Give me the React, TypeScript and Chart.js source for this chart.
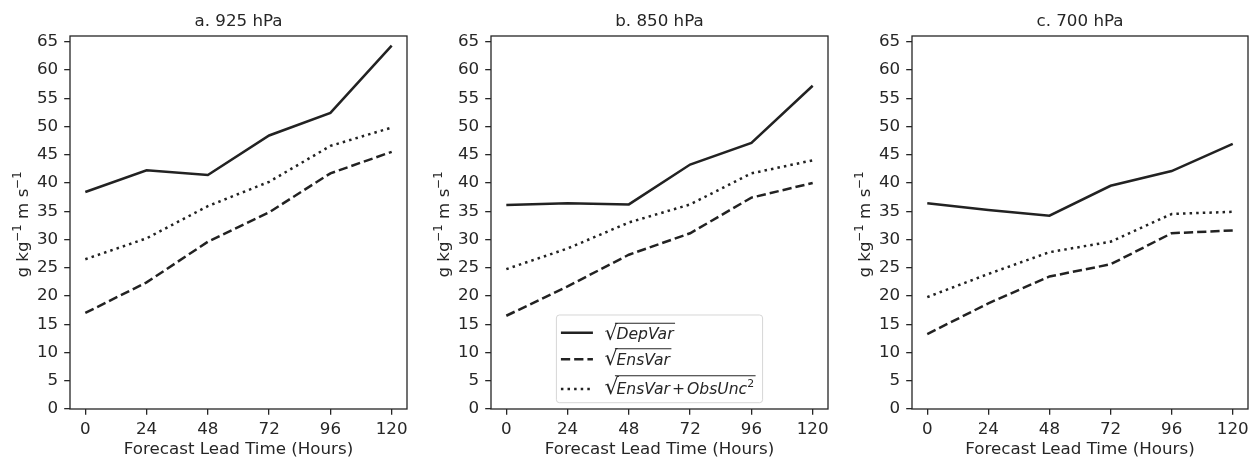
import React, { useEffect, useRef } from 'react';
import { Chart, registerables } from 'chart.js';

Chart.register(...registerables);

// ---------- data ----------
const hours = [0, 24, 48, 72, 96, 120];
const xTickLabels = ['0', '24', '48', '72', '96', '120'];
const yTickValues = [0, 5, 10, 15, 20, 25, 30, 35, 40, 45, 50, 55, 60, 65];
const yTickLabels = ['0', '5', '10', '15', '20', '25', '30', '35', '40', '45', '50', '55', '60', '65'];
const panelTitles = ['a. 925 hPa', 'b. 850 hPa', 'c. 700 hPa'];

const dep925 = [38.4, 42.25, 41.4, 48.4, 52.4, 64.3];
const ens925 = [17.0, 22.4, 29.6, 34.8, 41.7, 45.5];
const tot925 = [26.5, 30.2, 35.9, 40.2, 46.55, 49.8];

const dep850 = [36.1, 36.4, 36.2, 43.25, 47.1, 57.2];
const ens850 = [16.5, 21.7, 27.3, 31.1, 37.4, 40.0];
const tot850 = [24.75, 28.4, 33.0, 36.2, 41.7, 44.0];

const dep700 = [36.4, 35.2, 34.2, 39.5, 42.1, 46.9];
const ens700 = [13.25, 18.7, 23.45, 25.6, 31.1, 31.6];
const tot700 = [19.8, 23.9, 27.75, 29.6, 34.5, 34.9];

const legendLabels = ['DepVar', 'EnsVar', 'EnsVar+ObsUnc^2'];
const xTitle = 'Forecast Lead Time (Hours)';
const yTitle = 'g kg^{\u22121} m s^{\u22121}';

const panelSeries = [
  [dep925, ens925, tot925],
  [dep850, ens850, tot850],
  [dep700, ens700, tot700],
];

// ---------- styles ----------
const FONT = '"DejaVu Sans", Verdana, sans-serif';
const FS = 16.7;
const TEXT = '#262626';
const LINE = '#222222';
const LW = 2.5;
const dashes = [[], [9.25, 4.0], [2.5, 4.1]];

// canvas placement: [left, width, rightPadding]
const panelBoxes = [
  [0, 421, 14],
  [421, 421, 14],
  [842, 407, 1],
];
const H = 457;

const framePlugin = {
  id: 'frame',
  afterDatasetsDraw(chart: any) {
    const { ctx, chartArea: a } = chart;
    ctx.save();
    ctx.strokeStyle = TEXT;
    ctx.lineWidth = 1.3;
    ctx.strokeRect(a.left, a.top, a.right - a.left, a.bottom - a.top);
    ctx.restore();
  },
};

function parseSup(s: string) {
  const segs: { t: string; sup: boolean }[] = [];
  const re = /\^\{([^}]*)\}/g;
  let last = 0;
  let m: RegExpExecArray | null;
  while ((m = re.exec(s))) {
    if (m.index > last) segs.push({ t: s.slice(last, m.index), sup: false });
    segs.push({ t: m[1], sup: true });
    last = m.index + m[0].length;
  }
  if (last < s.length) segs.push({ t: s.slice(last), sup: false });
  return segs;
}

const yTitlePlugin = {
  id: 'yTitleMath',
  afterDraw(chart: any) {
    const { ctx, chartArea: a } = chart;
    const segs = parseSup(yTitle);
    ctx.save();
    const ws = segs.map((s) => {
      ctx.font = `${s.sup ? FS * 0.7 : FS}px ${FONT}`;
      return ctx.measureText(s.t).width;
    });
    const W = ws.reduce((p, c) => p + c, 0);
    ctx.translate(a.left - 41.8, (a.top + a.bottom) / 2 + 2);
    ctx.rotate(-Math.PI / 2);
    ctx.fillStyle = TEXT;
    ctx.textBaseline = 'alphabetic';
    ctx.textAlign = 'left';
    let x = -W / 2;
    segs.forEach((s, i) => {
      ctx.font = `${s.sup ? FS * 0.7 : FS}px ${FONT}`;
      ctx.fillText(s.t, x, s.sup ? -FS * 0.45 : 0);
      x += ws[i];
    });
    ctx.restore();
  },
};

function parseLabel(label: string) {
  const segs: { t: string; kind: 'it' | 'up' | 'sup' }[] = [];
  const parts = label.split('+');
  parts.forEach((p, i) => {
    if (i > 0) segs.push({ t: '+', kind: 'up' });
    const m = p.split('^');
    segs.push({ t: m[0], kind: 'it' });
    if (m[1]) segs.push({ t: m[1], kind: 'sup' });
  });
  return segs;
}

const mathLegendPlugin = {
  id: 'mathLegend',
  afterDraw(chart: any) {
    const { ctx, chartArea: a } = chart;
    const ds = chart.data.datasets;
    const fs = 15.6;
    const opGap = 2;
    const fonts: Record<string, string> = {
      it: `italic ${fs}px ${FONT}`,
      up: `${fs}px ${FONT}`,
      sup: `${fs * 0.7}px ${FONT}`,
    };
    ctx.save();
    const rows = legendLabels.map((l) => {
      const segs = parseLabel(l);
      let w = 0;
      const ws = segs.map((s) => {
        ctx.font = fonts[s.kind];
        const m = ctx.measureText(s.t).width + (s.kind === 'up' ? 2 * opGap : 0);
        w += m;
        return m;
      });
      return { segs, ws, w };
    });
    const maxW = Math.max(...rows.map((r) => r.w));
    const padL = 4.5, handle = 32, gap = 11.5, radW = 12, padR = 8.5;
    const boxW = padL + handle + gap + radW + maxW + padR;
    const boxH = 87.7;
    const cx = (a.left + a.right) / 2;
    const bx = cx - boxW / 2;
    const by = a.bottom - 6.3 - boxH;
    const handleOff = [17.7, 44.3, 74];
    const baseOff = [24.3, 50, 78.5];
    const barOff = [7.7, 33.3, 60.3];

    // frame
    ctx.beginPath();
    const r = 3;
    ctx.moveTo(bx + r, by);
    ctx.arcTo(bx + boxW, by, bx + boxW, by + boxH, r);
    ctx.arcTo(bx + boxW, by + boxH, bx, by + boxH, r);
    ctx.arcTo(bx, by + boxH, bx, by, r);
    ctx.arcTo(bx, by, bx + boxW, by, r);
    ctx.closePath();
    ctx.fillStyle = 'rgba(255,255,255,0.8)';
    ctx.fill();
    ctx.strokeStyle = 'rgba(204,204,204,0.8)';
    ctx.lineWidth = 1;
    ctx.stroke();

    rows.forEach((row, i) => {
      const d = ds[i];
      const hy = by + handleOff[i];
      // handle
      ctx.save();
      ctx.strokeStyle = d.borderColor;
      ctx.lineWidth = d.borderWidth;
      ctx.setLineDash(d.borderDash || []);
      ctx.lineCap = 'butt';
      ctx.beginPath();
      ctx.moveTo(bx + padL, hy);
      ctx.lineTo(bx + padL + handle, hy);
      ctx.stroke();
      ctx.restore();

      const base = by + baseOff[i];
      const barY = by + barOff[i];
      const rx = bx + padL + handle + gap;
      ctx.fillStyle = TEXT;
      ctx.textAlign = 'left';
      ctx.textBaseline = 'alphabetic';
      // radical glyph scaled so its top meets the bar and its foot sits ~2px under baseline
      const wantH = base + 2 - barY;
      ctx.font = `${fs}px ${FONT}`;
      const mr = ctx.measureText('\u221A');
      const gh = (mr.actualBoundingBoxAscent || fs * 0.76) + (mr.actualBoundingBoxDescent || fs * 0.05);
      const rfs = (fs * wantH) / gh;
      ctx.font = `${rfs}px ${FONT}`;
      const mr2 = ctx.measureText('\u221A');
      const asc2 = mr2.actualBoundingBoxAscent || rfs * 0.76;
      const rw = mr2.width;
      ctx.fillText('\u221A', rx, barY + asc2);
      // text
      let x = rx + radW;
      row.segs.forEach((s, k) => {
        ctx.font = fonts[s.kind];
        const dx = s.kind === 'up' ? opGap : 0;
        ctx.fillText(s.t, x + dx, s.kind === 'sup' ? base - 7 : base);
        x += row.ws[k];
      });
      // overline
      ctx.strokeStyle = TEXT;
      ctx.lineWidth = 1.1;
      ctx.beginPath();
      ctx.moveTo(rx + Math.min(rw, radW) - 1.5, barY + 0.5);
      ctx.lineTo(x + 1.5, barY + 0.5);
      ctx.stroke();
    });
    ctx.restore();
  },
};

function makeConfig(idx: number): any {
  const series = panelSeries[idx];
  const font = { family: FONT, size: FS };
  return {
    type: 'line',
    data: {
      datasets: series.map((vals, i) => ({
        label: legendLabels[i],
        data: hours.map((h, k) => ({ x: h, y: vals[k] })),
        borderColor: LINE,
        backgroundColor: LINE,
        borderWidth: LW,
        borderDash: dashes[i],
        borderCapStyle: 'butt',
        pointRadius: 0,
        tension: 0,
        fill: false,
      })),
    },
    options: {
      animation: false,
      responsive: false,
      devicePixelRatio: 1,
      events: [],
      layout: { padding: { top: 0, left: 0, bottom: 0, right: panelBoxes[idx][2] } },
      plugins: {
        legend: { display: false },
        tooltip: { enabled: false },
        title: {
          display: true,
          text: panelTitles[idx],
          fullSize: false,
          color: TEXT,
          font: { ...font, weight: 'normal', lineHeight: 1.2 },
          padding: { top: 11.5, bottom: 4.46 },
        },
      },
      scales: {
        x: {
          type: 'linear',
          min: -6,
          max: 126,
          afterBuildTicks: (s: any) => {
            s.ticks = hours.map((v) => ({ value: v }));
          },
          afterFit: (s: any) => {
            s.height = 48;
            s.paddingLeft = 0;
            s.paddingRight = 0;
          },
          ticks: {
            callback: (_v: any, i: number) => xTickLabels[i],
            font,
            color: TEXT,
            padding: 4.5,
            maxRotation: 0,
            autoSkip: false,
          },
          grid: { display: true, drawOnChartArea: false, drawTicks: true, tickLength: 5.8, color: TEXT, lineWidth: 1.3 },
          border: { display: false },
          title: { display: true, text: xTitle, color: TEXT, font: { ...font, lineHeight: 0.9 }, padding: { top: 0, bottom: 0 } },
        },
        y: {
          type: 'linear',
          min: 0,
          max: 66,
          afterBuildTicks: (s: any) => {
            s.ticks = yTickValues.map((v) => ({ value: v }));
          },
          afterFit: (s: any) => {
            s.width = 70;
            s.paddingTop = 0;
            s.paddingBottom = 0;
          },
          ticks: {
            callback: (_v: any, i: number) => yTickLabels[i],
            font,
            color: TEXT,
            padding: 6,
            autoSkip: false,
          },
          grid: { display: true, drawOnChartArea: false, drawTicks: true, tickLength: 5.8, color: TEXT, lineWidth: 1.3 },
          border: { display: false },
          title: { display: false },
        },
      },
    },
    plugins: idx === 1 ? [framePlugin, yTitlePlugin, mathLegendPlugin] : [framePlugin, yTitlePlugin],
  };
}

function Panel({ idx }: { idx: number }) {
  const ref = useRef<HTMLCanvasElement | null>(null);
  useEffect(() => {
    if (!ref.current) return;
    const chart = new Chart(ref.current, makeConfig(idx));
    return () => chart.destroy();
  }, [idx]);
  const [left, width] = panelBoxes[idx];
  return (
    <canvas
      ref={ref}
      width={width}
      height={H}
      style={{ position: 'absolute', left, top: 0, width, height: H, display: 'block' }}
    />
  );
}

export default function App() {
  return (
    <div style={{ position: 'absolute', left: 0, top: 0, width: 1249, height: H, background: '#ffffff', overflow: 'hidden' }}>
      <Panel idx={0} />
      <Panel idx={1} />
      <Panel idx={2} />
    </div>
  );
}
